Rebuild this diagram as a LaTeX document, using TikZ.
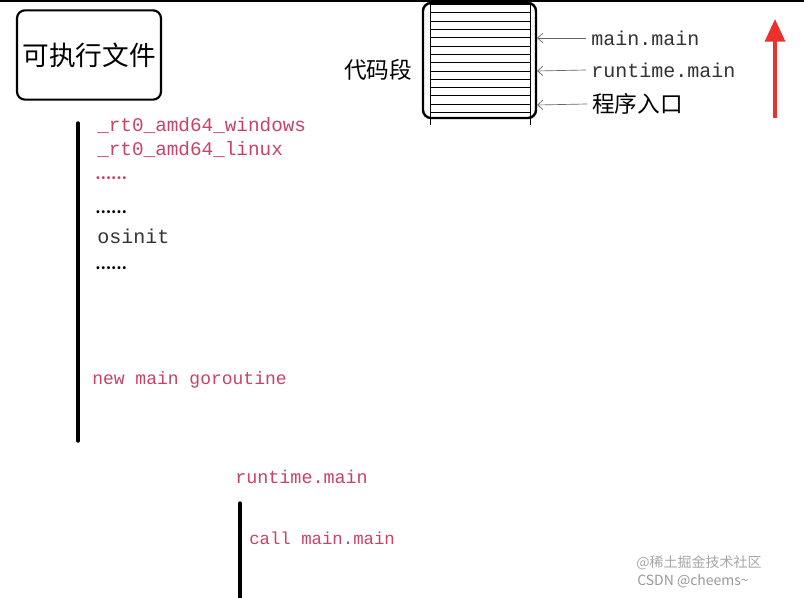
\documentclass[tikz,border=0pt]{standalone}
\usepackage{fontspec}
\setmonofont{Liberation Mono}
\newfontfamily\cjk{Noto Sans CJK SC}
\usetikzlibrary{arrows.meta}
\definecolor{codered}{RGB}{200,66,100}
\definecolor{uparrow}{RGB}{236,48,44}
\definecolor{codegray}{RGB}{50,50,50}
\begin{document}
\begin{tikzpicture}[x=0.75pt,y=-0.75pt,
    redtxt/.style={text=codered,font=\ttfamily\fontsize{14.5}{15}\selectfont,anchor=west,inner sep=0pt},
    blktxt/.style={text=codegray,font=\ttfamily\fontsize{15}{15}\selectfont,anchor=west,inner sep=0pt},
    dots/.style={font=\cjk\bfseries\fontsize{10.5}{10}\selectfont,anchor=west,inner sep=0pt},
    hantxt/.style={font=\cjk\fontsize{17}{17}\selectfont,anchor=west,inner sep=0pt},
    ptr/.style={draw=black!60,line width=0.5pt,-{Straight Barb[length=4pt,width=7pt]}},
    bar/.style={line width=2.6pt,line cap=round}]

    \useasboundingbox (0,0) rectangle (804,598);
    \draw[line width=1.2pt] (0,1) -- (804,1);

    \node[draw,line width=1.6pt,rounded corners=6pt,minimum width=108pt,minimum height=67pt,
          font=\cjk\fontsize{20}{20}\selectfont] (exe) at (89,55) {可执行文件};

    \node[hantxt] (seglbl) at (344,70) {代码段};

    \draw[line width=1.8pt,rounded corners=6pt] (423,3) rectangle (536,118);
    \draw[line width=0.5pt] (430,3) -- (430,125);
    \draw[line width=0.5pt] (530,3) -- (530,125);
    \foreach \y in {4.5,12.8,...,114} \draw[line width=0.5pt] (430,\y) -- (530,\y);

    \coordinate (pmain) at (537,38);
    \coordinate (prt) at (537,71);
    \coordinate (pentry) at (537,105);

    \node[blktxt] (lmain) at (591,38) {main.main};
    \node[blktxt] (lrt) at (591,70) {runtime.main};
    \node[hantxt,font=\cjk\fontsize{17}{17}\selectfont] (lentry) at (592,104) {程序入口};

    \draw[ptr] (lmain.west) ++(-5,0) coordinate (qmain) -- (pmain);
    \draw[ptr] (lrt.west) ++(-5,0) coordinate (qrt) -- (prt);
    \draw[ptr] (lentry.west) ++(-5,0) coordinate (qentry) -- (pentry);

    \coordinate (upbot) at (775,118);
    \coordinate (uptop) at (775,19);
    \draw[uparrow,line width=2.4pt,-{Triangle[length=17pt,width=15pt]}] (upbot) -- (uptop);

    \draw[bar] (78,123) -- (78,441);
    \node[redtxt] (win) at (97,126) {\_rt0\_amd64\_windows};
    \node[redtxt] (lin) at (97,150) {\_rt0\_amd64\_linux};
    \node[dots,text=codered] (rdots) at (95,178) {……};
    \node[dots] (bdots1) at (95,212) {……};
    \node[blktxt] (osinit) at (97,236) {osinit};
    \node[dots] (bdots2) at (95,268) {……};
    \node[redtxt,font=\ttfamily\fontsize{13.5}{14}\selectfont] (newg) at (92,380) {new main goroutine};

    \node[redtxt,font=\ttfamily\fontsize{13.8}{14}\selectfont] (rtmain) at (235,477) {runtime.main};
    \draw[bar] (240,503) -- (240,600);
    \node[redtxt,font=\ttfamily\fontsize{13}{14}\selectfont] (callm) at (249,538) {call main.main};

    \node[anchor=west,inner sep=0pt,text=black!35,font=\cjk\fontsize{10.5}{11}\selectfont] (wm1) at (636,563) {@稀土掘金技术社区};
    \node[anchor=west,inner sep=0pt,text=black!40,font=\cjk\fontsize{10.5}{11}\selectfont] (wm2) at (637,581) {CSDN @cheems\textasciitilde};
\end{tikzpicture}
\end{document}
